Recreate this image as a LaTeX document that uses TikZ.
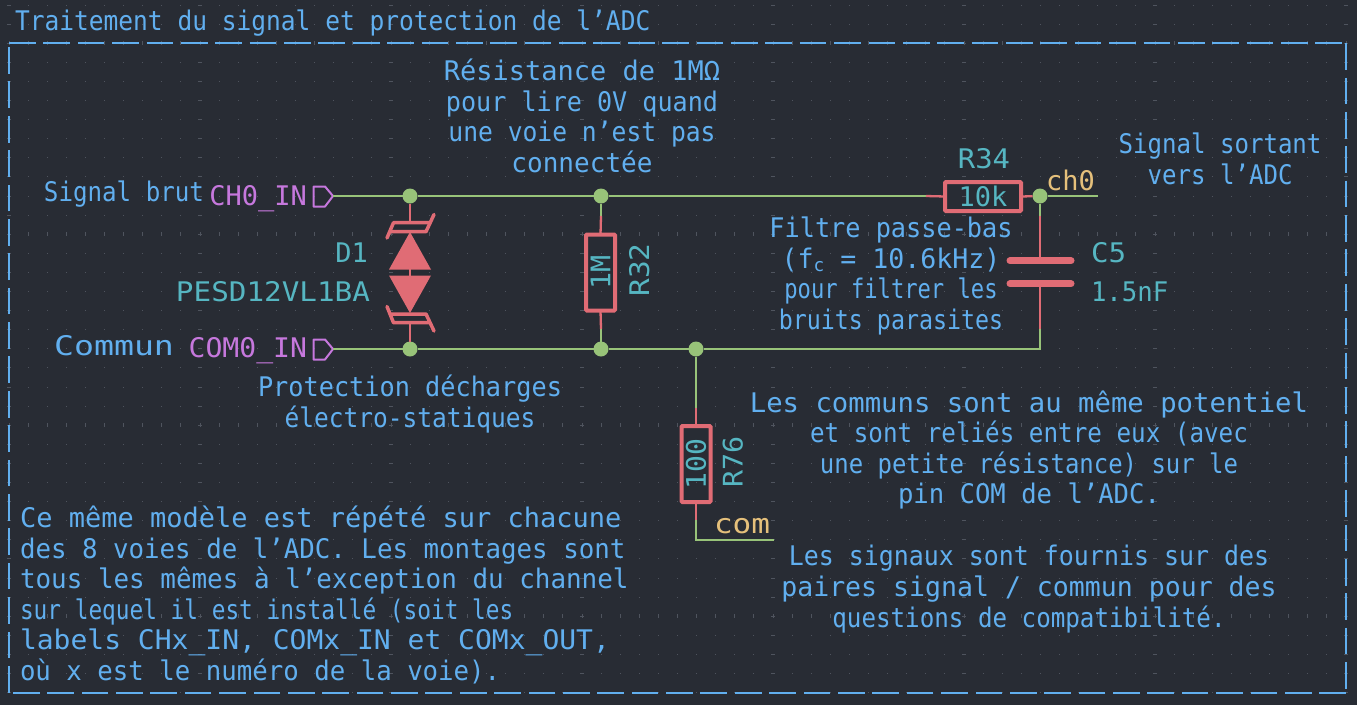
\documentclass[tikz,border=0pt]{standalone}
\usepackage{fontspec}
\setmainfont{DejaVu Sans Mono}
\definecolor{sheetbg}{HTML}{282C34}
\definecolor{griddot}{HTML}{4F545E}
\definecolor{wirecol}{HTML}{98C379}
\definecolor{partcol}{HTML}{E06C75}
\definecolor{notecol}{HTML}{61AFEF}
\definecolor{refcol}{HTML}{56B6C2}
\definecolor{hiercol}{HTML}{C678DD}
\definecolor{netcol}{HTML}{E5C07B}
\newcommand{\kifont}{\fontsize{27}{30.6}\selectfont}
\newcommand{\st}[2]{{\addfontfeature{FakeStretch=#1}#2}}
\newcommand{\subc}{\raisebox{-3pt}{\fontsize{18}{18}\selectfont c}}
\tikzset{
  every node/.style={font=\kifont,inner sep=0pt,outer sep=0pt},
  wire/.style={draw=wirecol,line width=2.3},
  pinline/.style={draw=partcol,line width=2.3},
  junc/.style={circle,fill=wirecol,minimum size=15},
  resbody/.style={draw=partcol,line width=4,rounded corners=1,text=refcol,minimum width=76,minimum height=29},
  tvsbar/.style={draw=partcol,line width=3.5,line cap=round,line join=round},
  capplate/.style={draw=partcol,line width=7,line cap=round},
  hier/.style={draw=hiercol,line width=2,line join=round},
  note/.style={text=notecol,align=center},
  noteleft/.style={text=notecol,align=left,anchor=west},
  reflabel/.style={text=refcol},
  netlabel/.style={text=netcol},
  hierlabel/.style={text=hiercol},
  framedash/.style={draw=notecol,line width=2,dash pattern=on 26.7 off 7.68},
}

\begin{document}
\begin{tikzpicture}[x=1pt,y=-1pt]
\useasboundingbox[fill=sheetbg] (0,0) rectangle (1357,705);

\foreach \i in {0,...,70}
  \foreach \j in {0,...,36}
    \fill[griddot] ({9+19.1*\i-0.5},{5+19.1*\j-0.5}) rectangle ++(1,1);
\foreach \i in {0,10,...,70}
  \foreach \j in {0,...,36}
    \fill[griddot] ({9+19.1*\i-2},{5+19.1*\j-0.5}) rectangle ++(4,1);
\foreach \i in {0,...,70}
  \foreach \j in {2,12,22,32}
    \fill[griddot] ({9+19.1*\i-0.5},{5+19.1*\j-2}) rectangle ++(1,4);

\coordinate (tl) at (9,43.2);
\coordinate (tr) at (1346,43.2);
\coordinate (bl) at (9,692.6);
\coordinate (br) at (1346,692.6);
\draw[framedash] (tl) -- (tr);
\draw[framedash] (tr) -- (br);
\draw[framedash] (br) -- (bl);
\draw[framedash] (bl) -- (tl);

\node[text=notecol,anchor=base west] at (15,30) {\st{.909}{Traitement du signal et protection de l'ADC}};

% entrees
\coordinate (chtip) at (333,196);
\coordinate (comtip) at (333,349);
\draw[hier] (313.5,186.5) -- (325,186.5) -- (chtip) -- (325,206.5) -- (313.5,206.5) -- cycle;
\draw[hier] (313.5,339.5) -- (325,339.5) -- (comtip) -- (325,359.5) -- (313.5,359.5) -- cycle;

\node[hierlabel,anchor=base east] (chname) at (307,205) {CH0\_IN};
\node[hierlabel,anchor=base east] (comname) at (307,357.5) {\st{1.04}{COM0\_IN}};
\node[text=notecol,anchor=base east] at (204,201.7) {\st{.895}{Signal brut}};
\node[text=notecol,anchor=base east] at (174,355) {\st{1.23}{Commun}};

% noeuds
\node[junc] (ja) at (410,196) {};
\node[junc] (jb) at (601,196) {};
\node[junc] (jc) at (1040,196) {};
\node[junc] (jd) at (410,349) {};
\node[junc] (je) at (601,349) {};
\node[junc] (jf) at (696,349) {};

% composants
\node[resbody] (r34) at (983,196.5) {10k};
\node[resbody,rotate=90] (r32) at (600.5,272.5) {\st{1.05}{1M}};
\node[resbody,rotate=90] (r76) at (696,464) {\st{1.04}{100}};
\coordinate (r34in) at (926,196);
\coordinate (r32t) at (601,216);
\coordinate (r32b) at (601,329);
\coordinate (r76t) at (696,408);
\coordinate (r76b) at (696,520);
\coordinate (c5t) at (1040,216);
\coordinate (c5b) at (1040,329);
\coordinate (c5corner) at (1040,349);
\coordinate (chend) at (1098,196);
\coordinate (comcorner) at (696,540);
\coordinate (comend) at (774,540);

\draw[wire] (chtip) -- (ja) -- (jb) -- (r34in);
\draw[wire] (comtip) -- (jd) -- (je) -- (jf) -- (c5corner) -- (c5b);
\draw[wire] (jc) -- (chend);
\draw[wire] (jc) -- (c5t);
\draw[wire] (jb) -- (r32t);
\draw[wire] (je) -- (r32b);
\draw[wire] (jf) -- (r76t);
\draw[wire] (r76b) -- (comcorner) -- (comend);

\draw[pinline] (r34in) -- (r34.west);
\draw[pinline] (r34.east) -- (jc);
\draw[pinline] (r32t) -- (r32.east);
\draw[pinline] (r32.west) -- (r32b);
\draw[pinline] (r76t) -- (r76.east);
\draw[pinline] (r76.west) -- (r76b);

\coordinate (c5p) at (1040,260.7);
\coordinate (c5m) at (1040,283.7);
\draw[pinline] (c5t) -- (c5p);
\draw[pinline] (c5m) -- (c5b);
\draw[capplate] (1010,260.7) -- (1071,260.7);
\draw[capplate] (1010,283.7) -- (1071,283.7);

% diode
\coordinate (d1t) at (410,222);
\coordinate (d1b) at (410,323);
\draw[pinline] (ja) -- (d1t);
\draw[pinline] (d1b) -- (jd);
\draw[pinline] (410,269) -- (410,276);
\fill[partcol] (410,232) -- (389,269.5) -- (431,269.5) -- cycle;
\fill[partcol] (410,313) -- (389,275.5) -- (431,275.5) -- cycle;
\draw[tvsbar] (387,238) -- (393.5,222.7) -- (429,222.7);
\draw[tvsbar] (391,231.7) -- (426,231.7) -- (434,214.5);
\draw[tvsbar] (387,306.5) -- (393.5,322.7) -- (429,322.7);
\draw[tvsbar] (391,314) -- (426,314) -- (434,331);

% textes composants
\node[reflabel,anchor=base east] at (368,262.7) {D1};
\node[reflabel,anchor=base east] at (370,301.7) {\st{1.085}{PESD12VL1BA}};
\node[reflabel,rotate=90,anchor=base] at (649,270) {\st{1.09}{R32}};
\node[reflabel,rotate=90,anchor=base] at (742.5,462) {\st{1.05}{R76}};
\node[reflabel,anchor=base] at (984,168) {\st{1.07}{R34}};
\node[reflabel,anchor=base west] at (1091,262.7) {\st{1.08}{C5}};
\node[reflabel,anchor=base west] at (1091,301.7) {\st{.95}{1.5nF}};
\node[netlabel,anchor=base west] at (1046,190) {ch0};
\node[netlabel,anchor=base west] at (714,533.3) {\st{1.15}{com}};

% notes
\node[note] at (582,116) {Résistance de 1MΩ\\\st{.93}{pour lire 0V quand}\\\st{.913}{une voie n'est pas}\\\st{.964}{connectée}};
\node[note] at (1220,159) {\st{.892}{Signal sortant}\\\st{.892}{vers l'ADC}};
\node[note] at (891,276) {\st{.935}{Filtre passe-bas}\\\st{.985}{(f\subc{} = 10.6kHz)}\\\st{.82}{pour filtrer les}\\\st{.862}{bruits parasites}};
\node[note] at (410,404) {\st{.935}{Protection décharges}\\\st{.908}{électro-statiques}};
\node[note] at (1029,450) {\st{1.01}{Les communs sont au même potentiel}\\\st{.898}{et sont reliés entre eux (avec}\\\st{.887}{une petite résistance) sur le}\\\st{.948}{pin COM de l'ADC.}};
\node[note] at (1029,589) {\st{.923}{Les signaux sont fournis sur des}\\\st{.983}{paires signal / commun pour des}\\\st{.896}{questions de compatibilité.}};
\node[noteleft] at (20,595) {Ce même modèle est répété sur chacune\\\st{.955}{des 8 voies de l'ADC. Les montages sont}\\\st{.96}{tous les mêmes à l'exception du channel}\\\st{.843}{sur lequel il est installé (soit les}\\\st{1.037}{labels CHx\_IN, COMx\_IN et COMx\_OUT,}\\\st{.953}{où x est le numéro de la voie).}};
\end{tikzpicture}
\end{document}
